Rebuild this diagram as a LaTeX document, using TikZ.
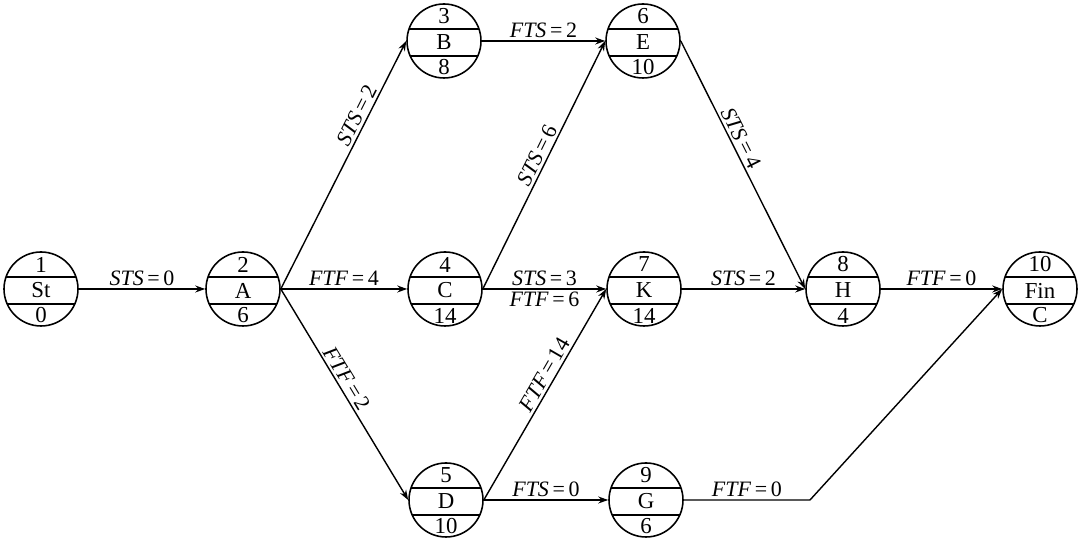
\documentclass[tikz,border=0pt]{standalone}
\usepackage{fontspec}
\setmainfont{Liberation Serif}
\usetikzlibrary{arrows.meta, calc, positioning}

\tikzset{
  act/.style={circle, draw, line width=0.9pt, minimum size=1.48cm, inner sep=0pt,
    path picture={
      \draw[line width=0.9pt] ([yshift=0.24cm]path picture bounding box.west) -- ([yshift=0.24cm]path picture bounding box.east);
      \draw[line width=0.9pt] ([yshift=-0.30cm]path picture bounding box.west) -- ([yshift=-0.30cm]path picture bounding box.east);
    }},
  num/.style={font=\fontsize{13}{14}\selectfont, inner sep=0pt},
  link/.style={line width=0.8pt, -{Stealth[length=2mm,width=1.4mm]}},
  lab/.style={font=\fontsize{12.5}{14}\selectfont, inner sep=1.5pt},
}
% activity circle: name, position, number, activity, duration
\newcommand{\act}[5]{%
  \node[act] (#1) at (#2) {};
  \node[num] (#1-no) at ([yshift=0.49cm]#1.center) {#3};
  \node[num] (#1-nm) at ([yshift=-0.03cm]#1.center) {#4};
  \node[num] (#1-du) at ([yshift=-0.53cm]#1.center) {#5};
}
\newcommand{\rel}[2]{\textit{#1}\,=\,#2}

\begin{document}
\begin{tikzpicture}
            \useasboundingbox (0,0) rectangle (21.56,10.78);
            % activities
            \act{St}{0.82,5.0}{1}{St}{0}
            \act{A}{4.86,5.0}{2}{A}{6}
            \act{B}{8.88,9.96}{3}{B}{8}
            \act{C}{8.90,5.0}{4}{C}{14}
            \act{D}{8.92,0.78}{5}{D}{10}
            \act{E}{12.86,9.96}{6}{E}{10}
            \act{K}{12.88,5.0}{7}{K}{14}
            \act{G}{12.92,0.78}{9}{G}{6}
            \act{H}{16.86,5.0}{8}{H}{4}
            \act{Fin}{20.80,5.0}{10}{Fin}{C}
            \coordinate (bend) at (16.2,0.78);
            % relations
            \draw[link] (St.east) -- node[lab,above] {\rel{STS}{0}} (A.west);
            \draw[link] (A.east) -- node[lab,sloped,above,pos=0.68] {\rel{STS}{2}} (B.west);
            \draw[link] (A.east) -- node[lab,above] {\rel{FTF}{4}} (C.west);
            \draw[link] (A.east) -- node[lab,sloped,above,pos=0.45] {\rel{FTF}{2}} (D.west);
            \draw[link] (B.east) -- node[lab,above] {\rel{FTS}{2}} (E.west);
            \draw[link] (C.east) -- node[lab,sloped,above,pos=0.52] {\rel{STS}{6}} (E.west);
            \draw[link] (C.east) -- node[lab,above] {\rel{STS}{3}} node[lab,below] {\rel{FTF}{6}} (K.west);
            \draw[link] (D.east) -- node[lab,sloped,above,pos=0.57] {\rel{FTF}{14}} (K.west);
            \draw[link] (D.east) -- node[lab,above] {\rel{FTS}{0}} (G.west);
            \draw[link] (E.east) -- node[lab,sloped,above,pos=0.41] {\rel{STS}{4}} (H.west);
            \draw[link] (K.east) -- node[lab,above] {\rel{STS}{2}} (H.west);
            \draw[link] (H.east) -- node[lab,above] {\rel{FTF}{0}} (Fin.west);
            \draw[link] (G.east) -- node[lab,above] {\rel{FTF}{0}} (bend) -- (Fin.west);
        \end{tikzpicture}
\end{document}
